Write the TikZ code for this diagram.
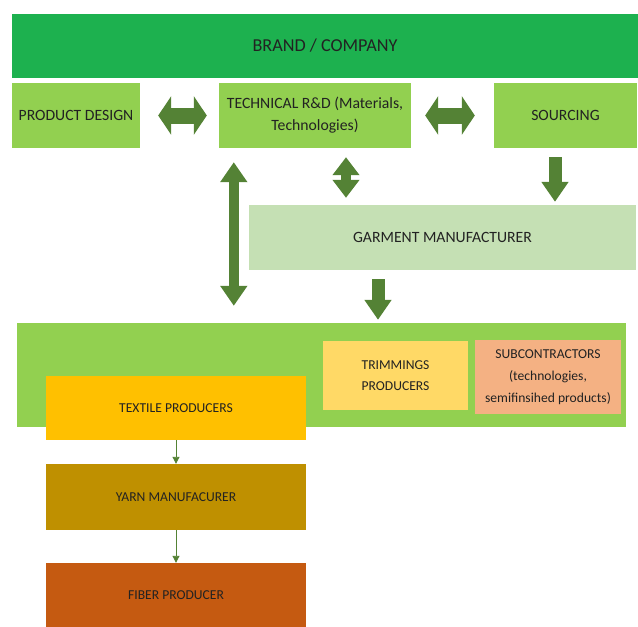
\documentclass[tikz,border=0pt]{standalone}
\usepackage{fontspec}
\setmainfont{Carlito}
\usetikzlibrary{arrows.meta}
\definecolor{brandg}{HTML}{1DB14F}
\definecolor{lightg}{HTML}{92D050}
\definecolor{paleg}{HTML}{C5E0B4}
\definecolor{arrowg}{HTML}{548235}
\definecolor{trimc}{HTML}{FFD966}
\definecolor{subc}{HTML}{F4B183}
\definecolor{textc}{HTML}{FFC000}
\definecolor{yarnc}{HTML}{BF9000}
\definecolor{fiberc}{HTML}{C55A11}
\definecolor{txt}{HTML}{222222}
\tikzset{
  box/.style={rectangle, inner sep=0pt, align=center, text=txt},
  big/.style={box, font=\fontsize{15.7}{22}\selectfont},
  small/.style={box, font=\fontsize{13.6}{21}\selectfont},
  blockarrow/.style={draw=arrowg, line width=#1},
  thinarrow/.style={draw=arrowg, line width=0.9pt, -{Triangle[width=7pt,length=7pt]}},
}
\begin{document}
\begin{tikzpicture}[x=1pt,y=-1pt]
\useasboundingbox (0,0) rectangle (638,627);
% boxes
\node[box, fill=brandg, minimum width=626pt, minimum height=64pt, font=\fontsize{18.2}{22}\selectfont] (brand) at (325,46) {BRAND / COMPANY};
\node[big, fill=lightg, minimum width=128pt, minimum height=65pt] (pd) at (76,115.5) {PRODUCT DESIGN};
\node[big, fill=lightg, minimum width=192pt, minimum height=65pt] (tech) at (315,115.5) {TECHNICAL R\&D (Materials,\\Technologies)};
\node[big, fill=lightg, minimum width=143pt, minimum height=65pt] (src) at (565.5,115.5) {SOURCING};
\node[big, fill=paleg, minimum width=387pt, minimum height=65pt] (garm) at (442.5,237.5) {GARMENT MANUFACTURER};
\node[box, fill=lightg, minimum width=609pt, minimum height=104pt] (cont) at (321.5,375) {};
\node[small, fill=trimc, minimum width=145pt, minimum height=69pt] (trim) at (395.5,375.5) {TRIMMINGS\\PRODUCERS};
\node[small, fill=subc, minimum width=146pt, minimum height=74pt, font=\fontsize{13.6}{22}\selectfont] (sub) at (548,377) {SUBCONTRACTORS\\(technologies,\\semifinsihed products)};
\node[small, fill=textc, minimum width=260pt, minimum height=64pt] (tex) at (176,408) {TEXTILE PRODUCERS};
\node[small, fill=yarnc, minimum width=260pt, minimum height=66pt] (yarn) at (176,497) {YARN MANUFACURER};
\node[small, fill=fiberc, minimum width=260pt, minimum height=64pt] (fib) at (176,595) {FIBER PRODUCER};
% block arrows
\draw[blockarrow=16pt, {Triangle[width=38pt,length=13pt]}-{Triangle[width=38pt,length=13pt]}, shorten <=18pt, shorten >=12pt] (pd.east) -- (tech.west);
\draw[blockarrow=16pt, {Triangle[width=38pt,length=13pt]}-{Triangle[width=38pt,length=13pt]}, shorten <=14pt, shorten >=19pt] (tech.east) -- (src.west);
\draw[blockarrow=10pt, {Triangle[width=26pt,length=20pt]}-{Triangle[width=26pt,length=20pt]}, shorten <=14pt, shorten >=17pt] ([xshift=15pt]tech.south west) -- ([xshift=217pt]cont.north west);
\draw[blockarrow=10pt, {Triangle[width=26pt,length=18pt]}-{Triangle[width=26pt,length=18pt]}, shorten <=9pt, shorten >=7pt] ([xshift=31pt]tech.south) -- ([xshift=31pt]tech.south |- garm.north);
\draw[blockarrow=13pt, -{Triangle[width=26pt,length=20pt]}, shorten <=9pt, shorten >=3pt] ([xshift=-10.5pt]src.south) -- ([xshift=-10.5pt]src.south |- garm.north);
\draw[blockarrow=13pt, -{Triangle[width=26pt,length=20pt]}, shorten <=9pt, shorten >=3pt] ([xshift=-64.5pt]garm.south) -- ([xshift=-64.5pt]garm.south |- cont.north);
% thin arrows
\draw[thinarrow] (tex.south) -- (yarn.north);
\draw[thinarrow] (yarn.south) -- (fib.north);
\end{tikzpicture}
\end{document}
